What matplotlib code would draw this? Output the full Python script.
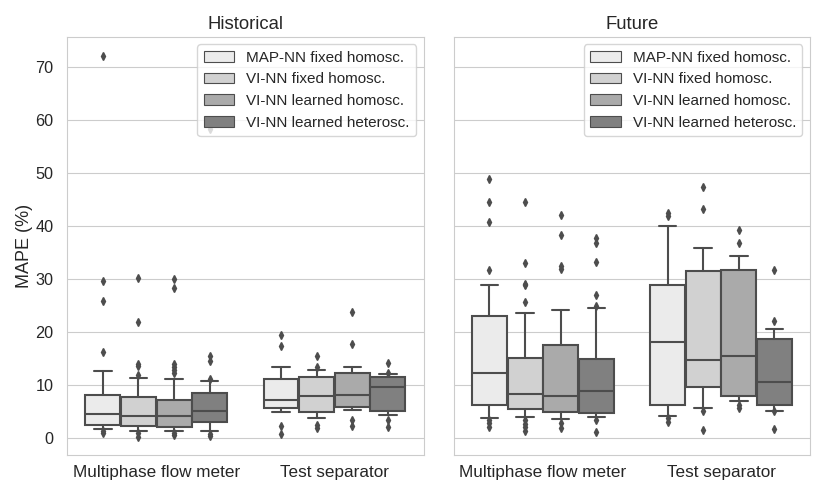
import matplotlib
matplotlib.use("Agg")
import matplotlib.pyplot as plt
import seaborn as sns
from matplotlib.patches import Patch

sns.set_style("whitegrid")
plt.rcParams['font.family'] = ['Liberation Sans', 'DejaVu Sans']

categories = ["Multiphase flow meter", "Test separator"]
models = ["MAP-NN fixed homosc.", "VI-NN fixed homosc.",
          "VI-NN learned homosc.", "VI-NN learned heterosc."]
colors = ["#ebebeb", "#d1d1d1", "#aaaaaa", "#808080"]

# box statistics, [category][model]
hist_q1 = [[2.4, 2.2, 2.0, 3.0], [5.6, 4.8, 5.8, 5.0]]
hist_med = [[4.4, 4.1, 4.1, 5.0], [7.1, 7.9, 8.0, 9.5]]
hist_q3 = [[8.0, 7.6, 7.2, 8.5], [11.1, 11.4, 12.3, 11.4]]
hist_lo = [[1.65, 1.33, 1.2, 1.27], [4.9, 3.7, 5.3, 4.2]]
hist_hi = [[12.6, 11.3, 11.1, 10.7], [13.4, 12.8, 13.4, 12.0]]
hist_fliers = [
    [[0.9, 1.2, 16.1, 25.9, 29.6, 72.1],
     [0.1, 0.9, 11.8, 13.5, 13.9, 21.9, 30.2],
     [0.5, 0.9, 12.2, 12.8, 13.4, 13.9, 28.3, 30.0],
     [0.4, 0.7, 11.1, 14.5, 15.5, 58.3]],
    [[0.7, 2.2, 17.3, 19.4],
     [1.9, 2.4, 13.4, 15.4],
     [2.2, 3.3, 17.7, 23.7],
     [2.0, 3.4, 12.3, 14.1]],
]

fut_q1 = [[6.2, 5.4, 4.9, 4.7], [6.2, 9.5, 7.8, 6.1]]
fut_med = [[12.2, 8.3, 7.9, 8.9], [18.1, 14.6, 15.5, 10.6]]
fut_q3 = [[23.0, 15.0, 17.5, 14.9], [28.8, 31.5, 31.7, 18.6]]
fut_lo = [[3.7, 4.0, 3.6, 4.0], [4.1, 5.7, 6.9, 5.1]]
fut_hi = [[28.9, 23.5, 24.2, 24.4], [39.9, 35.8, 34.3, 20.6]]
fut_fliers = [
    [[2.1, 2.7, 3.3, 31.6, 40.7, 44.5, 48.8],
     [1.3, 2.0, 2.6, 3.3, 25.7, 28.8, 29.1, 33.0, 44.6],
     [1.8, 2.7, 31.9, 32.4, 38.3, 42.0],
     [1.1, 3.3, 24.8, 26.9, 33.1, 36.8, 37.7]],
    [[2.9, 3.7, 41.8, 42.5],
     [1.5, 5.0, 43.2, 47.4],
     [5.7, 6.2, 36.7, 39.2],
     [1.7, 5.0, 22.1, 31.6]],
]

line_col = "#4d4d4d"


def draw_panel(ax, q1, med, q3, lo, hi, fliers, title):
    for i in range(len(categories)):
        for j in range(len(models)):
            st = dict(q1=q1[i][j], med=med[i][j], q3=q3[i][j],
                      whislo=lo[i][j], whishi=hi[i][j], fliers=fliers[i][j])
            pos = i + (j - 1.5) * 0.2
            ax.bxp([st], positions=[pos], widths=0.196, patch_artist=True,
                   manage_ticks=False,
                   boxprops=dict(facecolor=colors[j], edgecolor=line_col, linewidth=1.5),
                   medianprops=dict(color=line_col, linewidth=1.5),
                   whiskerprops=dict(color=line_col, linewidth=1.5),
                   capprops=dict(color=line_col, linewidth=1.5),
                   flierprops=dict(marker="d", markersize=4, markerfacecolor=line_col,
                                   markeredgecolor=line_col, linestyle="none"))
    ax.set_xlim(-0.5, 1.5)
    ax.set_xticks(range(len(categories)))
    ax.set_xticklabels(categories, fontsize=12.3)
    ax.set_title(title, fontsize=13.3)
    handles = [Patch(facecolor=c, edgecolor=line_col, linewidth=0.8, label=m)
               for c, m in zip(colors, models)]
    ax.legend(handles=handles, loc="upper right", fontsize=11, labelspacing=0.5)
    ax.grid(axis="x", visible=False)


fig, (ax1, ax2) = plt.subplots(1, 2, figsize=(8.3, 4.98), dpi=100, sharey=True)
fig.subplots_adjust(left=0.081, right=0.976, bottom=0.086, top=0.926, wspace=0.085)

draw_panel(ax1, hist_q1, hist_med, hist_q3, hist_lo, hist_hi, hist_fliers, "Historical")
draw_panel(ax2, fut_q1, fut_med, fut_q3, fut_lo, fut_hi, fut_fliers, "Future")

ax1.set_yticks(range(0, 71, 10))
ax1.set_ylim(-3.3, 75.7)
ax1.tick_params(axis="y", labelsize=11.7, pad=6.3)
ax2.tick_params(axis="y", left=False, labelleft=False)
ax1.set_ylabel("MAPE (%)", fontsize=13, labelpad=1.5)

fig.savefig("out.png", dpi=100)
